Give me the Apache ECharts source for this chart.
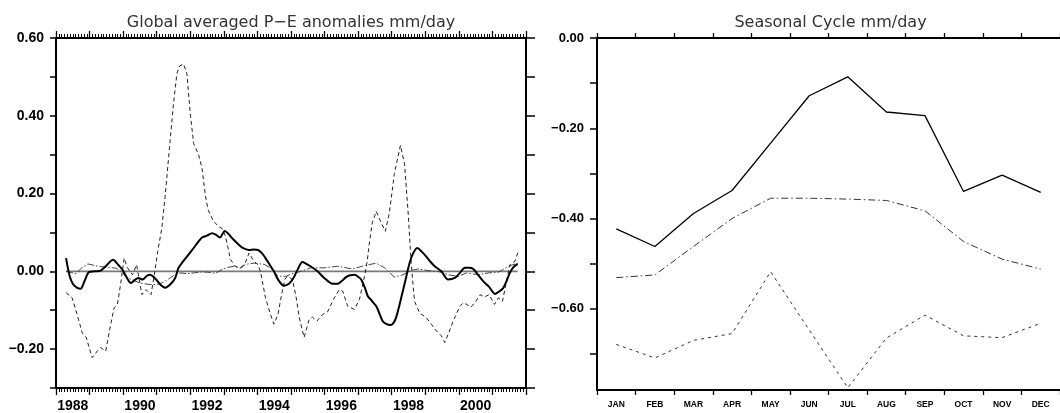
<!DOCTYPE html>
<html>
<head>
<meta charset="utf-8">
<script src="https://cdn.jsdelivr.net/npm/echarts@6/dist/echarts.min.js"></script>
<style>
html,body{margin:0;padding:0;background:#fff;}
#chart{width:1060px;height:413px;}
</style>
</head>
<body>
<div id="chart"></div>
<script>
// ---------- DATA ----------
const leftTitle = 'Global averaged P\u2212E anomalies mm/day';
const rightTitle = 'Seasonal Cycle mm/day';

const yearLabelPositions = [1988.5, 1990.5, 1992.5, 1994.5, 1996.5, 1998.5, 2000.5];

// thick solid line: [year, mm/day]
const anomSolid = [
[1988.30,0.034],[1988.40,-0.010],[1988.50,-0.032],[1988.62,-0.042],[1988.73,-0.045],[1988.85,-0.025],
[1988.98,-0.002],[1989.15,0.000],[1989.33,0.002],[1989.50,0.015],[1989.70,0.030],[1989.85,0.017],
[1989.98,0.004],[1990.12,-0.018],[1990.23,-0.030],[1990.35,-0.022],[1990.45,-0.017],[1990.58,-0.021],
[1990.70,-0.012],[1990.80,-0.009],[1990.98,-0.021],[1991.12,-0.035],[1991.25,-0.042],[1991.40,-0.034],
[1991.55,-0.017],[1991.65,0.009],[1991.78,0.025],[1991.90,0.038],[1992.10,0.060],[1992.25,0.077],
[1992.35,0.087],[1992.50,0.092],[1992.65,0.098],[1992.78,0.093],[1992.88,0.087],[1993.03,0.104],
[1993.15,0.095],[1993.25,0.085],[1993.40,0.072],[1993.55,0.061],[1993.75,0.055],[1993.90,0.056],
[1994.02,0.055],[1994.15,0.045],[1994.24,0.034],[1994.38,0.015],[1994.49,0.000],[1994.62,-0.022],
[1994.79,-0.037],[1994.94,-0.032],[1995.07,-0.018],[1995.20,0.005],[1995.34,0.024],[1995.44,0.020],
[1995.54,0.015],[1995.67,0.008],[1995.79,0.000],[1995.99,-0.017],[1996.24,-0.032],[1996.39,-0.032],
[1996.52,-0.024],[1996.64,-0.015],[1996.76,-0.010],[1996.89,-0.009],[1997.00,-0.014],[1997.09,-0.021],
[1997.20,-0.042],[1997.29,-0.064],[1997.40,-0.075],[1997.54,-0.090],[1997.65,-0.112],[1997.73,-0.128],
[1997.85,-0.136],[1997.96,-0.138],[1998.05,-0.133],[1998.13,-0.119],[1998.23,-0.087],[1998.33,-0.051],
[1998.43,-0.015],[1998.53,0.021],[1998.63,0.045],[1998.76,0.060],[1998.90,0.050],[1999.03,0.038],
[1999.15,0.025],[1999.28,0.013],[1999.48,0.000],[1999.68,-0.021],[1999.88,-0.017],[2000.03,-0.004],
[2000.18,0.009],[2000.30,0.009],[2000.43,0.006],[2000.58,-0.010],[2000.73,-0.026],[2000.90,-0.040],
[2001.08,-0.058],[2001.20,-0.052],[2001.32,-0.043],[2001.42,-0.025],[2001.52,-0.004],[2001.62,0.010],
[2001.75,0.019]
];

// thin dashed line
const anomDashed = [
[1988.30,-0.055],[1988.48,-0.068],[1988.63,-0.111],[1988.78,-0.158],[1988.90,-0.170],[1989.00,-0.200],
[1989.08,-0.222],[1989.23,-0.205],[1989.33,-0.196],[1989.48,-0.205],[1989.63,-0.136],[1989.73,-0.094],
[1989.83,-0.085],[1989.93,-0.030],[1990.03,0.034],[1990.13,0.009],[1990.28,-0.009],[1990.40,0.017],
[1990.48,-0.021],[1990.56,-0.060],[1990.68,-0.047],[1990.83,-0.060],[1990.93,-0.009],[1991.03,0.051],
[1991.15,0.110],[1991.25,0.192],[1991.40,0.337],[1991.50,0.431],[1991.60,0.508],[1991.68,0.528],
[1991.80,0.533],[1991.90,0.508],[1992.00,0.405],[1992.10,0.329],[1992.25,0.299],[1992.35,0.265],
[1992.45,0.195],[1992.53,0.158],[1992.69,0.129],[1992.85,0.115],[1992.95,0.110],[1993.05,0.090],
[1993.20,0.030],[1993.35,0.012],[1993.50,0.010],[1993.62,0.018],[1993.75,0.047],[1993.88,0.028],
[1994.01,0.017],[1994.09,0.000],[1994.24,-0.068],[1994.39,-0.111],[1994.49,-0.136],[1994.61,-0.111],
[1994.74,-0.051],[1994.82,-0.020],[1994.90,-0.012],[1995.04,-0.021],[1995.14,-0.060],[1995.25,-0.120],
[1995.39,-0.170],[1995.54,-0.124],[1995.64,-0.118],[1995.77,-0.128],[1995.94,-0.111],[1996.09,-0.104],
[1996.29,-0.068],[1996.44,-0.047],[1996.54,-0.051],[1996.69,-0.090],[1996.89,-0.098],[1997.04,-0.072],
[1997.19,-0.013],[1997.27,0.026],[1997.34,0.077],[1997.42,0.125],[1997.54,0.154],[1997.69,0.124],
[1997.81,0.103],[1997.93,0.150],[1998.08,0.252],[1998.26,0.324],[1998.38,0.277],[1998.49,0.150],
[1998.58,0.022],[1998.63,-0.030],[1998.68,-0.077],[1998.83,-0.107],[1999.03,-0.119],[1999.18,-0.136],
[1999.33,-0.153],[1999.48,-0.166],[1999.58,-0.183],[1999.68,-0.162],[1999.83,-0.128],[2000.03,-0.090],
[2000.13,-0.081],[2000.23,-0.085],[2000.36,-0.092],[2000.50,-0.078],[2000.63,-0.060],[2000.76,-0.066],
[2000.90,-0.060],[2001.06,-0.085],[2001.18,-0.068],[2001.30,-0.077],[2001.43,-0.021],[2001.52,0.017],
[2001.67,0.026],[2001.77,0.051]
];

// dash-dot line
const anomDashDot = [
[1988.30,0.000],[1988.45,-0.003],[1988.60,-0.006],[1988.75,0.008],[1988.95,0.019],[1989.15,0.015],
[1989.35,0.012],[1989.60,0.010],[1989.80,0.008],[1989.93,0.000],[1990.10,-0.015],[1990.25,-0.021],
[1990.50,-0.030],[1990.80,-0.034],[1991.00,-0.034],[1991.15,-0.030],[1991.35,-0.020],[1991.55,-0.008],
[1991.70,-0.004],[1991.90,-0.006],[1992.10,-0.004],[1992.30,-0.002],[1992.50,-0.002],[1992.75,-0.005],
[1992.95,0.005],[1993.10,0.010],[1993.30,0.013],[1993.50,0.008],[1993.65,0.018],[1993.90,0.021],
[1994.20,0.018],[1994.40,0.008],[1994.60,-0.012],[1994.85,-0.013],[1995.00,-0.007],[1995.30,0.000],
[1995.59,0.009],[1995.99,0.009],[1996.39,0.013],[1996.84,0.006],[1997.19,0.015],[1997.54,0.021],
[1997.79,0.009],[1998.08,-0.015],[1998.33,-0.009],[1998.58,0.002],[1998.78,0.006],[1999.08,0.002],
[1999.38,0.000],[1999.68,-0.009],[1999.98,-0.013],[2000.23,-0.004],[2000.58,-0.009],[2000.88,-0.004],
[2001.18,-0.002],[2001.48,0.013],[2001.75,0.021]
];

const zeroLine = [[1988.30,0],[2001.75,0]];

const months = ['JAN','FEB','MAR','APR','MAY','JUN','JUL','AUG','SEP','OCT','NOV','DEC'];
const seasonSolid   = [-0.423,-0.462,-0.389,-0.338,-0.233,-0.128,-0.086,-0.164,-0.172,-0.340,-0.304,-0.342];
const seasonDashDot = [-0.531,-0.525,-0.462,-0.400,-0.355,-0.355,-0.357,-0.360,-0.383,-0.451,-0.490,-0.512];
const seasonDashed  = [-0.679,-0.709,-0.670,-0.655,-0.518,-0.647,-0.775,-0.665,-0.614,-0.660,-0.664,-0.632];

const rightTickValues  = [0,-0.1,-0.2,-0.3,-0.4,-0.5,-0.6,-0.7];
const rightLabelValues = [0,-0.2,-0.4,-0.6];

// ---------- CHART ----------
const fmtNum = v => {
  if (Math.abs(v) < 1e-9) return '0.00';
  return (v < 0 ? '\u2212' : '') + Math.abs(v).toFixed(2);
};
const labelFont = {color:'#000', fontFamily:'Liberation Sans, Arial, sans-serif', fontWeight:'bold'};
const axisLine = {show:true, onZero:false, lineStyle:{color:'#000', width:2}};

const G0 = {left:56, top:38, width:470, height:352};
const G1 = {left:597, top:38, width:467, height:352};

const chart = echarts.init(document.getElementById('chart'), null, {renderer:'canvas'});
chart.setOption({
  animation:false,
  backgroundColor:'#fff',
  graphic:[
    {type:'text', x: G0.left + G0.width/2, y: 23,
     style:{text:leftTitle, fill:'#333', font:'16px "DejaVu Sans", sans-serif', textAlign:'center', textVerticalAlign:'middle'}},
    {type:'text', x: G1.left + G1.width/2, y: 23,
     style:{text:rightTitle, fill:'#333', font:'16px "DejaVu Sans", sans-serif', textAlign:'center', textVerticalAlign:'middle'}}
  ],
  grid:[
    Object.assign({containLabel:false}, G0),
    Object.assign({containLabel:false}, G1)
  ],
  xAxis:[
    {gridIndex:0, type:'value', min:1988, max:2002, interval:1, position:'bottom',
     axisLine:axisLine,
     axisTick:{show:true, inside:false, length:7, lineStyle:{color:'#000', width:1.3}},
     minorTick:{show:true, splitNumber:12, length:4, lineStyle:{color:'#000', width:1}},
     splitLine:{show:false}, minorSplitLine:{show:false},
     axisLabel:Object.assign({customValues:yearLabelPositions, fontSize:14, margin:11,
       formatter:v => String(Math.floor(v))}, labelFont)},
    {gridIndex:0, type:'value', min:1988, max:2002, interval:1, position:'top',
     axisLine:axisLine,
     axisTick:{show:true, inside:false, length:7, lineStyle:{color:'#000', width:1.3}},
     minorTick:{show:true, splitNumber:12, length:4, lineStyle:{color:'#000', width:1}},
     splitLine:{show:false}, minorSplitLine:{show:false},
     axisLabel:{show:false}},
    {gridIndex:1, type:'category', data:months, position:'bottom', boundaryGap:true,
     axisLine:axisLine,
     axisTick:{show:true, inside:false, length:5, interval:0, lineStyle:{color:'#000', width:1.3}},
     splitLine:{show:false},
     axisLabel:Object.assign({fontSize:8.5, margin:10, interval:0}, labelFont)},
    {gridIndex:1, type:'category', data:months, position:'top', boundaryGap:true,
     axisLine:axisLine,
     axisTick:{show:true, inside:false, length:5, interval:0, lineStyle:{color:'#000', width:1.3}},
     splitLine:{show:false},
     axisLabel:{show:false}}
  ],
  yAxis:[
    {gridIndex:0, type:'value', min:-0.3, max:0.6, interval:0.1, position:'left',
     axisLine:axisLine,
     axisTick:{show:true, inside:false, length:6, lineStyle:{color:'#000', width:1.5}},
     splitLine:{show:false},
     axisLabel:Object.assign({fontSize:14, margin:12,
       formatter:v => (Math.abs(Math.round(v*10)) % 2 === 0 ? fmtNum(v) : '')}, labelFont)},
    {gridIndex:0, type:'value', min:-0.3, max:0.6, interval:0.1, position:'right',
     axisLine:axisLine,
     axisTick:{show:true, inside:false, length:9, lineStyle:{color:'#000', width:1.5}},
     splitLine:{show:false},
     axisLabel:{show:false}},
    {gridIndex:1, type:'value', min:-0.78, max:0, position:'left',
     axisLine:axisLine,
     axisTick:{show:true, inside:false, length:7, customValues:rightTickValues, lineStyle:{color:'#000', width:1.5}},
     splitLine:{show:false},
     axisLabel:Object.assign({fontSize:13, margin:13, customValues:rightLabelValues, formatter:fmtNum}, labelFont)}
  ],
  series:[
    {type:'line', xAxisIndex:0, yAxisIndex:0, data:zeroLine, showSymbol:false, silent:true,
     lineStyle:{color:'#7a7a7a', width:1.6}},
    {type:'line', xAxisIndex:0, yAxisIndex:0, data:anomDashed, showSymbol:false,
     lineStyle:{color:'#222', width:1, type:[4,3]}},
    {type:'line', xAxisIndex:0, yAxisIndex:0, data:anomDashDot, showSymbol:false,
     lineStyle:{color:'#444', width:1, type:[7,2,1.5,2]}},
    {type:'line', xAxisIndex:0, yAxisIndex:0, data:anomSolid, showSymbol:false, smooth:0.3,
     lineStyle:{color:'#000', width:2}},
    {type:'line', xAxisIndex:2, yAxisIndex:2, data:seasonDashed, showSymbol:false,
     lineStyle:{color:'#333', width:1, type:[3,4]}},
    {type:'line', xAxisIndex:2, yAxisIndex:2, data:seasonDashDot, showSymbol:false,
     lineStyle:{color:'#333', width:1, type:[7,3,1.5,3]}},
    {type:'line', xAxisIndex:2, yAxisIndex:2, data:seasonSolid, showSymbol:false,
     lineStyle:{color:'#000', width:1.3}}
  ]
});
</script>
</body>
</html>
